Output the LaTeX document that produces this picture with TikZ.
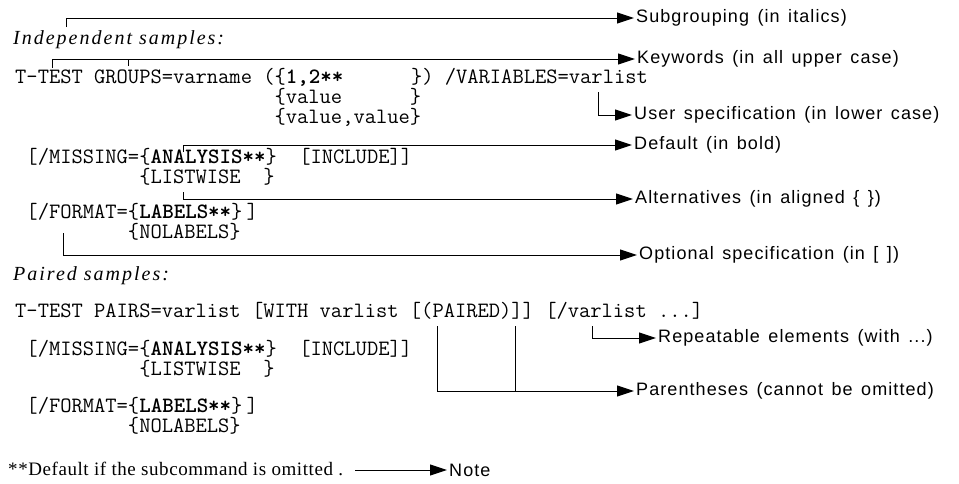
\documentclass[tikz,border=0pt]{standalone}
\usepackage{fontspec}
\usetikzlibrary{arrows.meta}
\newfontfamily\sansL[LetterSpace=6,WordSpace=1.4]{Liberation Sans}
\newfontfamily\serL[LetterSpace=10]{Liberation Serif}
\newfontfamily\serN[LetterSpace=3]{Liberation Serif}
\newcommand\monof{\ttfamily\fontsize{21.9}{21.9}\selectfont}
\newcommand\labf{\sansL\fontsize{18}{18}\selectfont}
\newcommand\headf{\serL\itshape\fontsize{20}{20}\selectfont}
\newcommand\notef{\serN\fontsize{19}{19}\selectfont}
\tikzset{
  mono/.style={anchor=base west, inner sep=0pt, font=\monof},
  head/.style={anchor=base west, inner sep=0pt, font=\headf},
  foot/.style={anchor=base west, inner sep=0pt, font=\notef},
  lab/.style={anchor=west, inner xsep=2pt, inner ysep=0pt, font=\labf},
  ln/.style={line width=1pt, black},
  arr/.style={ln, -{Triangle[length=17pt,width=11pt]}},
}
\begin{document}
\begin{tikzpicture}[x=1pt,y=-1pt]
\useasboundingbox (0,0) rectangle (959,483);
% ---- texts, left side
\node[head] (h1) at (13,44) {Independent samples:};
\node[mono] (t1) at (15,83) {T-TEST GROUPS=varname (\{\textbf{1,2**}\ \ \ \ \ \ \}) /VARIABLES=varlist};
\node[mono] (t2) at (15,103) {\hphantom{T-TEST GROUPS=varname (}\{value\ \ \ \ \ \ \}};
\node[mono] (t3) at (15,123) {\hphantom{T-TEST GROUPS=varname (}\{value,value\}};
\node[mono] (m1) at (15,163) {\hphantom{T}[/MISSING=\{\textbf{ANALYSIS**}\}\ \ [INCLUDE]]};
\node[mono] (m2) at (15,183) {\hphantom{T[/MISSING=}\{LISTWISE\ \ \}};
\node[mono] (f1) at (15,218) {\hphantom{T}[/FORMAT=\{\textbf{LABELS**}\}\hspace{4pt}]};
\node[mono] (f2) at (15,238) {\hphantom{T[/FORMAT=}\{NOLABELS\}};
\node[head] (h2) at (13,280) {Paired samples:};
\node[mono] (p1) at (15,317) {T-TEST PAIRS=varlist [WITH varlist [(PAIRED)]] [/varlist ...]};
\node[mono] (m3) at (15,355) {\hphantom{T}[/MISSING=\{\textbf{ANALYSIS**}\}\ \ [INCLUDE]]};
\node[mono] (m4) at (15,375) {\hphantom{T[/MISSING=}\{LISTWISE\ \ \}};
\node[mono] (f3) at (15,412) {\hphantom{T}[/FORMAT=\{\textbf{LABELS**}\}\hspace{4pt}]};
\node[mono] (f4) at (15,432) {\hphantom{T[/FORMAT=}\{NOLABELS\}};
\node[foot] (fn) at (8,475) {**Default if the subcommand is omitted .};
% ---- labels, right side
\node[lab] (lSub) at (634,18) {Subgrouping (in italics)};
\node[lab] (lKey) at (635,59) {Keywords (in all upper case)};
\node[lab] (lUser) at (632,115) {User specification (in lower case)};
\node[lab] (lDef) at (632,145) {Default (in bold)};
\node[lab] (lAlt) at (633,199) {Alternatives (in aligned \{ \})};
\node[lab] (lOpt) at (637,255) {Optional specification (in [ ])};
\node[lab] (lRep) at (656,338) {Repeatable elements (with ...)};
\node[lab] (lPar) at (634,391) {Parentheses (cannot be omitted)};
\node[lab] (lNote) at (447,470) {Note};
% ---- connector start points
\coordinate (cSub) at (66,27);
\coordinate (cKey1) at (52,68);
\coordinate (cKey2) at (128,66);
\coordinate (cUser) at (598,92);
\coordinate (cDef) at (183,152);
\coordinate (cAlt) at (183,192);
\coordinate (cOpt) at (63,233);
\coordinate (cRep) at (592,326);
\coordinate (cPar1) at (437,326);
\coordinate (cPar2) at (515,326);
\coordinate (cNote) at (355,470);
% ---- connectors
\draw[arr] (cSub) |- (lSub.west);
\draw[arr] (cKey1) |- (lKey.west);
\draw[ln] (cKey2) -- (cKey2 |- lKey.west);
\draw[arr] (cUser) |- (lUser.west);
\draw[arr] (cDef) |- (lDef.west);
\draw[arr] (cAlt) |- (lAlt.west);
\draw[arr] (cOpt) |- (lOpt.west);
\draw[arr] (cRep) |- (lRep.west);
\draw[arr] (cPar1) |- (lPar.west);
\draw[ln] (cPar2) -- (cPar2 |- lPar.west);
\draw[arr] (cNote) -- (lNote.west);
\end{tikzpicture}
\end{document}
